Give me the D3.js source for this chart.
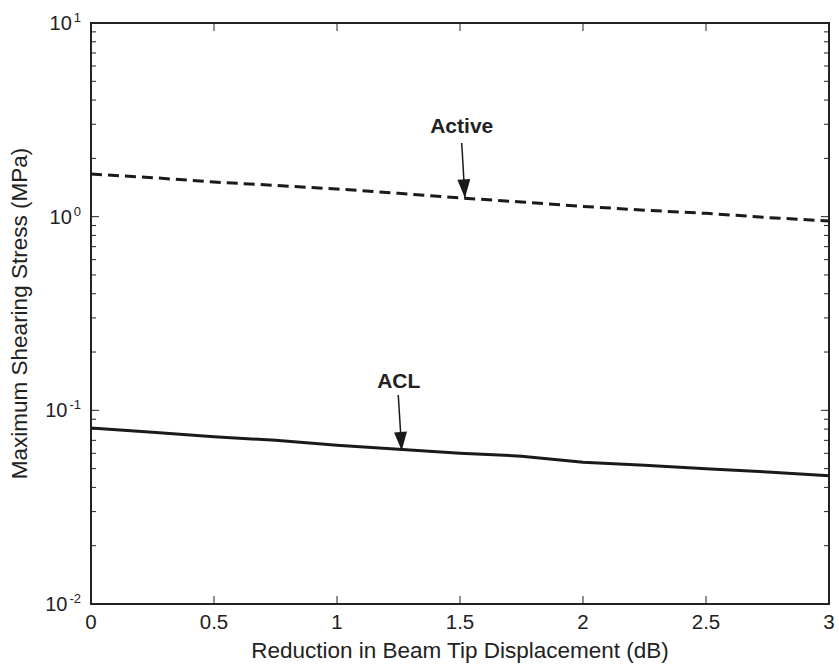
<!DOCTYPE html>
<html>
<head>
<meta charset="utf-8">
<script src="https://cdn.jsdelivr.net/npm/d3@7"></script>
<style>
  body { margin: 0; background: #fff; }
  text { font-family: "Liberation Sans", Arial, sans-serif; fill: #222; }
</style>
</head>
<body>
<div id="chart"></div>
<script>
// data
var reduction = [0, 0.25, 0.5, 0.75, 1, 1.25, 1.5, 1.75, 2, 2.25, 2.5, 2.75, 3];
var activeStress = [1.66, 1.59, 1.51, 1.45, 1.39, 1.32, 1.25, 1.19, 1.13, 1.08, 1.04, 0.99, 0.95];
var aclStress = [0.081, 0.077, 0.073, 0.070, 0.066, 0.063, 0.060, 0.058, 0.054, 0.052, 0.050, 0.048, 0.046];
var xTicks = [0, 0.5, 1, 1.5, 2, 2.5, 3];
var yDecades = [-2, -1, 0, 1];
// annotation: label position, tail (x0, y0) and tip (x1, y1) in data units
var notes = [
    {label: "Active", lx: 1.507, ly: 2.70, x0: 1.507, y0: 2.4, x1: 1.52, y1: 1.25},
    {label: "ACL", lx: 1.251, ly: 0.130, x0: 1.249, y0: 0.12, x1: 1.263, y1: 0.062}
];

var W = 839, H = 671;
var margin = {top: 23, right: 10, bottom: 67, left: 91},
    width = W - margin.left - margin.right,
    height = H - margin.top - margin.bottom;

var svg = d3.select("#chart").append("svg")
    .attr("width", W)
    .attr("height", H);

var g = svg.append("g")
    .attr("transform", "translate(" + margin.left + "," + margin.top + ")");

var x = d3.scaleLinear().domain([0, 3]).range([0, width]);
var y = d3.scaleLog().domain([0.01, 10]).range([height, 0]);

//ticks menores del eje log
var minor = [];
yDecades.slice(0, 3).forEach(function (d) {
    for (var k = 2; k <= 9; k++) minor.push(k * Math.pow(10, d));
});

var axisColor = "#222";

// x ticks bottom and top, inward
xTicks.forEach(function (t) {
    g.append("line").attr("x1", x(t)).attr("x2", x(t)).attr("y1", height).attr("y2", height - 8)
        .attr("stroke", axisColor).attr("stroke-width", 1);
    g.append("line").attr("x1", x(t)).attr("x2", x(t)).attr("y1", 0).attr("y2", 8)
        .attr("stroke", axisColor).attr("stroke-width", 1);
    g.append("text").attr("x", x(t)).attr("y", height + 25)
        .attr("text-anchor", "middle").style("font-size", "20.5px")
        .text(d3.format("")(t));
});

// y ticks left and right
yDecades.forEach(function (d) {
    var v = Math.pow(10, d);
    g.append("line").attr("x1", 0).attr("x2", 8).attr("y1", y(v)).attr("y2", y(v))
        .attr("stroke", axisColor).attr("stroke-width", 1);
    g.append("line").attr("x1", width).attr("x2", width - 8).attr("y1", y(v)).attr("y2", y(v))
        .attr("stroke", axisColor).attr("stroke-width", 1);
    var lab = g.append("text").attr("x", -10).attr("y", y(v) + 7)
        .attr("text-anchor", "end").style("font-size", "20px");
    lab.append("tspan").text("10");
    lab.append("tspan").attr("dx", 2).attr("dy", -8).style("font-size", "13px").text(d);
});
minor.forEach(function (v) {
    g.append("line").attr("x1", 0).attr("x2", 5).attr("y1", y(v)).attr("y2", y(v))
        .attr("stroke", axisColor).attr("stroke-width", 1);
    g.append("line").attr("x1", width).attr("x2", width - 5).attr("y1", y(v)).attr("y2", y(v))
        .attr("stroke", axisColor).attr("stroke-width", 1);
});

// box
g.append("rect").attr("width", width).attr("height", height)
    .attr("fill", "none").attr("stroke", axisColor).attr("stroke-width", 2);

var line = d3.line()
    .x(function (d) { return x(d[0]); })
    .y(function (d) { return y(d[1]); });

g.append("path")
    .datum(d3.zip(reduction, activeStress))
    .attr("d", line)
    .attr("fill", "none").attr("stroke", "#1a1a1a").attr("stroke-width", 3)
    .attr("stroke-dasharray", "11,6");

g.append("path")
    .datum(d3.zip(reduction, aclStress))
    .attr("d", line)
    .attr("fill", "none").attr("stroke", "#1a1a1a").attr("stroke-width", 3);

// flechas
svg.append("defs").append("marker")
    .attr("id", "arrow")
    .attr("viewBox", "0 0 20 14")
    .attr("refX", 20).attr("refY", 7)
    .attr("markerWidth", 20).attr("markerHeight", 13)
    .attr("markerUnits", "userSpaceOnUse")
    .attr("orient", "auto")
    .append("path").attr("d", "M0,0L20,7L0,14Z").attr("fill", "#1a1a1a");

notes.forEach(function (n) {
    g.append("line")
        .attr("x1", x(n.x0)).attr("y1", y(n.y0))
        .attr("x2", x(n.x1)).attr("y2", y(n.y1))
        .attr("stroke", "#1a1a1a").attr("stroke-width", 1.5)
        .attr("marker-end", "url(#arrow)");
    g.append("text")
        .attr("x", x(n.lx)).attr("y", y(n.ly))
        .attr("text-anchor", "middle")
        .style("font-size", "21px").style("font-weight", "bold")
        .text(n.label);
});

// axis titles
svg.append("text")
    .attr("x", margin.left + width / 2).attr("y", 658)
    .attr("text-anchor", "middle").style("font-size", "22.5px")
    .text("Reduction in Beam Tip Displacement (dB)");

svg.append("text")
    .attr("transform", "translate(27," + (margin.top + height / 2) + ") rotate(-90)")
    .attr("text-anchor", "middle").style("font-size", "22.5px")
    .text("Maximum Shearing Stress (MPa)");
</script>
</body>
</html>
